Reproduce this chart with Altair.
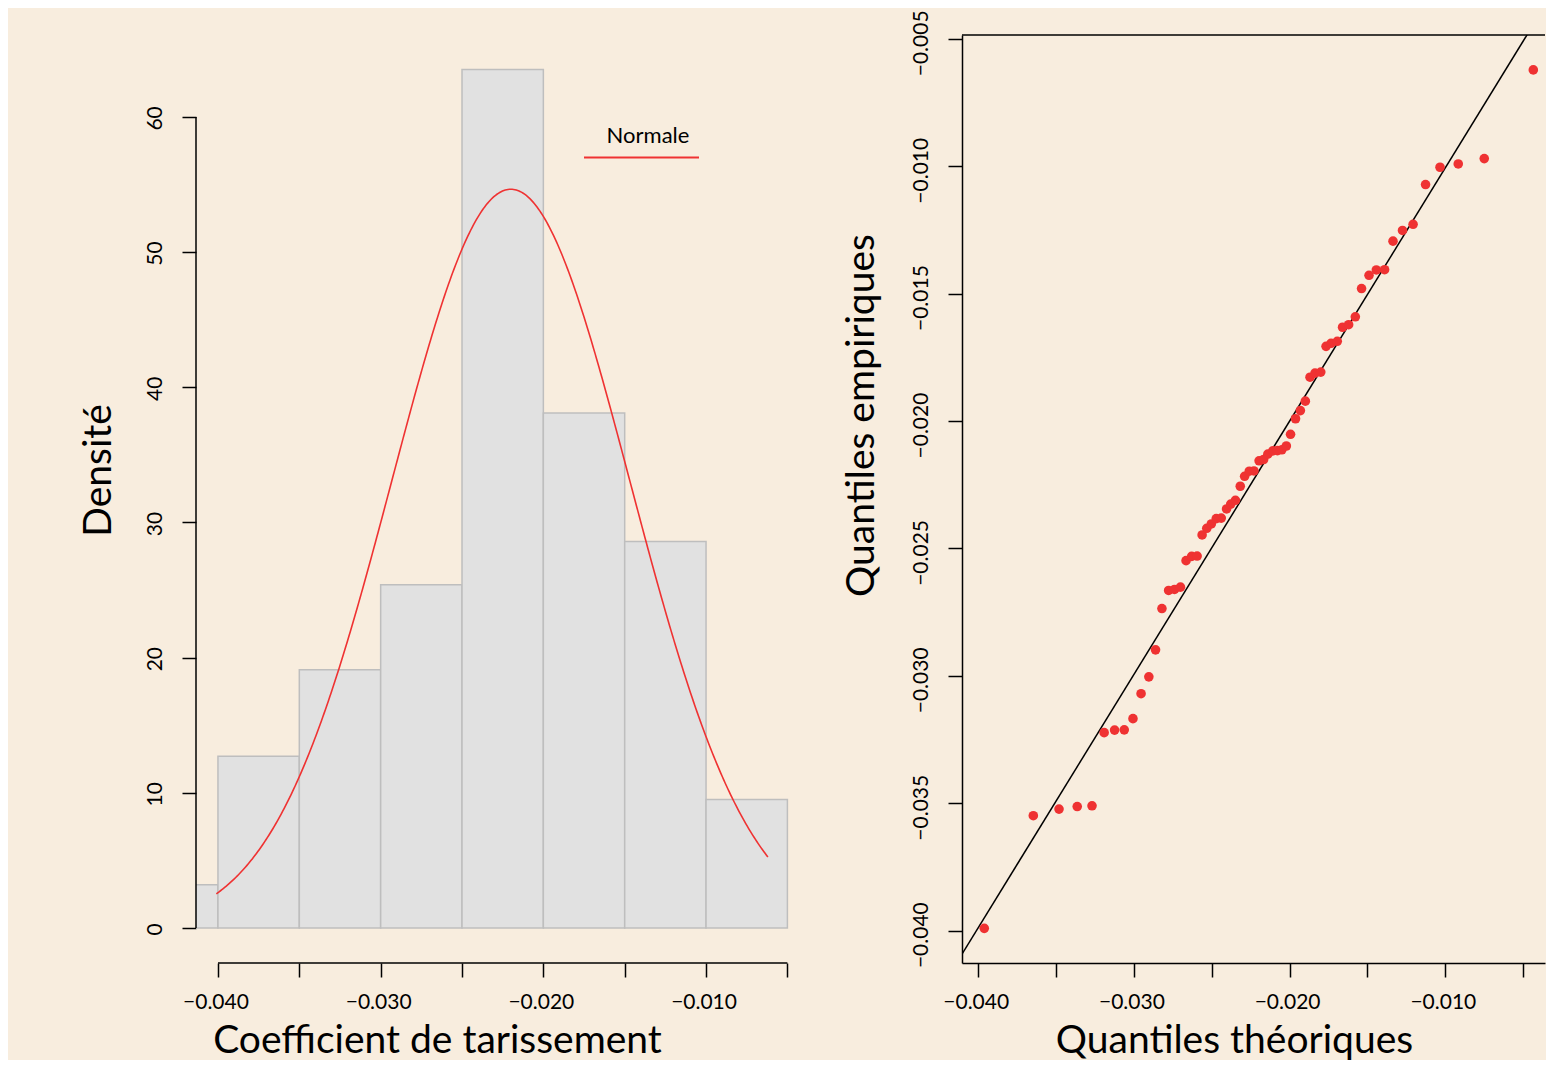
import numpy as np
import pandas as pd
import altair as alt

FONT = "Lato"
RED = "#EF3232"
BG = "#F8EDDE"

# ---------------- data ----------------
# histogram (density scale)
bin_left = [-0.045, -0.040, -0.035, -0.030, -0.025, -0.020, -0.015, -0.010]
bin_right = [-0.040, -0.035, -0.030, -0.025, -0.020, -0.015, -0.010, -0.005]
density = [3.2, 12.7, 19.1, 25.4, 63.5, 38.1, 28.6, 9.5]

# fitted normal curve, parameters
normal_mean = -0.0220
normal_sd = 0.00730
curve_from = -0.0401
curve_to = -0.0062

# QQ plot
theo_q = [-0.03961, -0.03646, -0.03481, -0.03364, -0.03269, -0.03191, -0.03124, -0.03062, -0.03006, -0.02954,
          -0.02904, -0.02861, -0.02820, -0.02777, -0.02739, -0.02701, -0.02665, -0.02629, -0.02594, -0.02562,
          -0.02532, -0.02503, -0.02471, -0.02439, -0.02405, -0.02378, -0.02348, -0.02317, -0.02289, -0.02259,
          -0.02229, -0.02196, -0.02167, -0.02140, -0.02108, -0.02078, -0.02050, -0.02021, -0.01994, -0.01962,
          -0.01931, -0.01899, -0.01869, -0.01837, -0.01800, -0.01766, -0.01734, -0.01694, -0.01660, -0.01621,
          -0.01578, -0.01538, -0.01490, -0.01443, -0.01390, -0.01336, -0.01275, -0.01207, -0.01127, -0.01034,
          -0.00917, -0.00750, -0.00435]
emp_q = [-0.03991, -0.03549, -0.03523, -0.03513, -0.03510, -0.03223, -0.03213, -0.03212, -0.03168, -0.03070,
         -0.03004, -0.02898, -0.02736, -0.02665, -0.02661, -0.02652, -0.02548, -0.02531, -0.02530, -0.02447,
         -0.02421, -0.02404, -0.02383, -0.02381, -0.02345, -0.02326, -0.02311, -0.02256, -0.02217, -0.02197,
         -0.02196, -0.02156, -0.02151, -0.02130, -0.02117, -0.02116, -0.02113, -0.02098, -0.02052, -0.01991,
         -0.01959, -0.01922, -0.01828, -0.01812, -0.01808, -0.01707, -0.01695, -0.01687, -0.01632, -0.01622,
         -0.01591, -0.01480, -0.01428, -0.01407, -0.01406, -0.01294, -0.01252, -0.01228, -0.01072, -0.01004,
         -0.00991, -0.00970, -0.00622]
qq_line_x = [-0.045, 0.0]
qq_line_y = [-0.04486, -0.00012]

x_ticks = [-0.040, -0.035, -0.030, -0.025, -0.020, -0.015, -0.010, -0.005]
dens_ticks = [0, 10, 20, 30, 40, 50, 60]
qq_y_ticks = [-0.040, -0.035, -0.030, -0.025, -0.020, -0.015, -0.010, -0.005]
legend_label = ["Normale"]

# ---------------- frames ----------------
hist_df = pd.DataFrame({"x": bin_left, "x2": bin_right, "y": density, "y2": [0] * len(density)})
cx = np.linspace(curve_from, curve_to, 400)
cy = np.exp(-0.5 * ((cx - normal_mean) / normal_sd) ** 2) / (normal_sd * np.sqrt(2 * np.pi))
curve_df = pd.DataFrame({"x": cx, "y": cy})
xaxis_df = pd.DataFrame({"x": [x_ticks[0]], "x2": [x_ticks[-1]]})
yaxis_df = pd.DataFrame({"y": [dens_ticks[0]], "y2": [dens_ticks[-1]]})
legend_df = pd.DataFrame({"label": legend_label})
qq_df = pd.DataFrame({"x": theo_q, "y": emp_q})
qqline_df = pd.DataFrame({"x": qq_line_x, "y": qq_line_y})

W, H = 594, 928
WR = 583
LABEL_EXPR = "abs(round(datum.value*1000)) % 10 == 0 ? format(datum.value, '.3f') : ''"

common = dict(grid=False, tickSize=14, tickWidth=1.5, tickColor="black",
              domainColor="black", domainWidth=1.5,
              labelFont=FONT, labelFontSize=21, labelColor="black", labelFlush=False,
              labelOverlap=False, titleFont=FONT, titleFontSize=39, titleFontWeight="normal",
              titleColor="black")


def x_axis(title, tx, ty, domain):
    return alt.Axis(values=x_ticks, labelExpr=LABEL_EXPR, labelPadding=14, labelOffset=-2.5,
                    title=title, titleAngle=0, titleAlign="center", titleBaseline="alphabetic",
                    titleX=tx, titleY=ty, domain=domain, **common)


def y_axis(title, values, fmt, tx, ty, domain, loff):
    return alt.Axis(values=values, format=fmt, labelAngle=270, labelAlign="center",
                    labelBaseline="bottom", labelPadding=16.5, labelOffset=loff, title=title,
                    titleAngle=270, titleAlign="center", titleBaseline="alphabetic",
                    titleX=tx, titleY=ty, domain=domain, **common)


# ---------------- left panel: histogram ----------------
xs_l = alt.Scale(domain=[-0.04135, -0.00484], nice=False, zero=False)
ys_l = alt.Scale(domain=[-2.59, 66.06], nice=False, zero=False)

bars = alt.Chart(hist_df).mark_rect(fill="#E1E1E1", stroke="#BEBEBE", strokeWidth=1.5, clip=True).encode(
    x=alt.X("x:Q", scale=xs_l, axis=x_axis("Coefficient de tarissement", 241, 89, False)),
    x2="x2:Q",
    y=alt.Y("y:Q", scale=ys_l, axis=y_axis("Densité", dens_ticks, "d", -86, 435, False, 1)),
    y2="y2:Q",
)
curve = alt.Chart(curve_df).mark_line(color=RED, strokeWidth=1.6, clip=True).encode(
    x=alt.X("x:Q", scale=xs_l), y=alt.Y("y:Q", scale=ys_l)
)
x_line = alt.Chart(xaxis_df).mark_rule(color="black", strokeWidth=1.5).encode(
    x=alt.X("x:Q", scale=xs_l), x2="x2:Q", y=alt.value(H)
)
y_line = alt.Chart(yaxis_df).mark_rule(color="black", strokeWidth=1.5).encode(
    y=alt.Y("y:Q", scale=ys_l), y2="y2:Q", x=alt.value(0)
)
leg_text = alt.Chart(legend_df).mark_text(font=FONT, fontSize=22, color="black", align="center",
                                          baseline="alphabetic").encode(
    x=alt.value(452), y=alt.value(108), text="label:N"
)
leg_line = alt.Chart(legend_df).mark_rule(color=RED, strokeWidth=1.8).encode(
    x=alt.value(388), x2=alt.value(503), y=alt.value(122.5)
)
left = alt.layer(bars, curve, x_line, y_line, leg_text, leg_line).properties(width=W, height=H)

# ---------------- right panel: QQ plot ----------------
xs_r = alt.Scale(domain=[-0.04104, -0.04104 + WR / 15571.0], nice=False, zero=False)
ys_r = alt.Scale(domain=[-0.04127, -0.00485], nice=False, zero=False)

pts = alt.Chart(qq_df).mark_circle(size=92, color=RED, opacity=1).encode(
    x=alt.X("x:Q", scale=xs_r, axis=x_axis("Quantiles théoriques", 272, 89, True)),
    y=alt.Y("y:Q", scale=ys_r,
            axis=y_axis("Quantiles empiriques", qq_y_ticks, ".3f", -89, 380, True, 4)),
)
qqline = alt.Chart(qqline_df).mark_line(color="black", strokeWidth=1.5, clip=True).encode(
    x=alt.X("x:Q", scale=xs_r), y=alt.Y("y:Q", scale=ys_r)
)
top_edge = alt.Chart(legend_df).mark_rule(color="black", strokeWidth=1.5).encode(
    x=alt.value(0), x2=alt.value(WR), y=alt.value(0)
)
right = alt.layer(qqline, pts, top_edge).properties(width=WR, height=H)

chart = alt.hconcat(left, right, spacing=172, bounds="flush").properties(
    background=BG, padding={"left": 71, "top": 1, "right": 0, "bottom": 0}
).configure_view(stroke=None)

chart.save("out.html", embed_options={"renderer": "svg", "actions": False})
